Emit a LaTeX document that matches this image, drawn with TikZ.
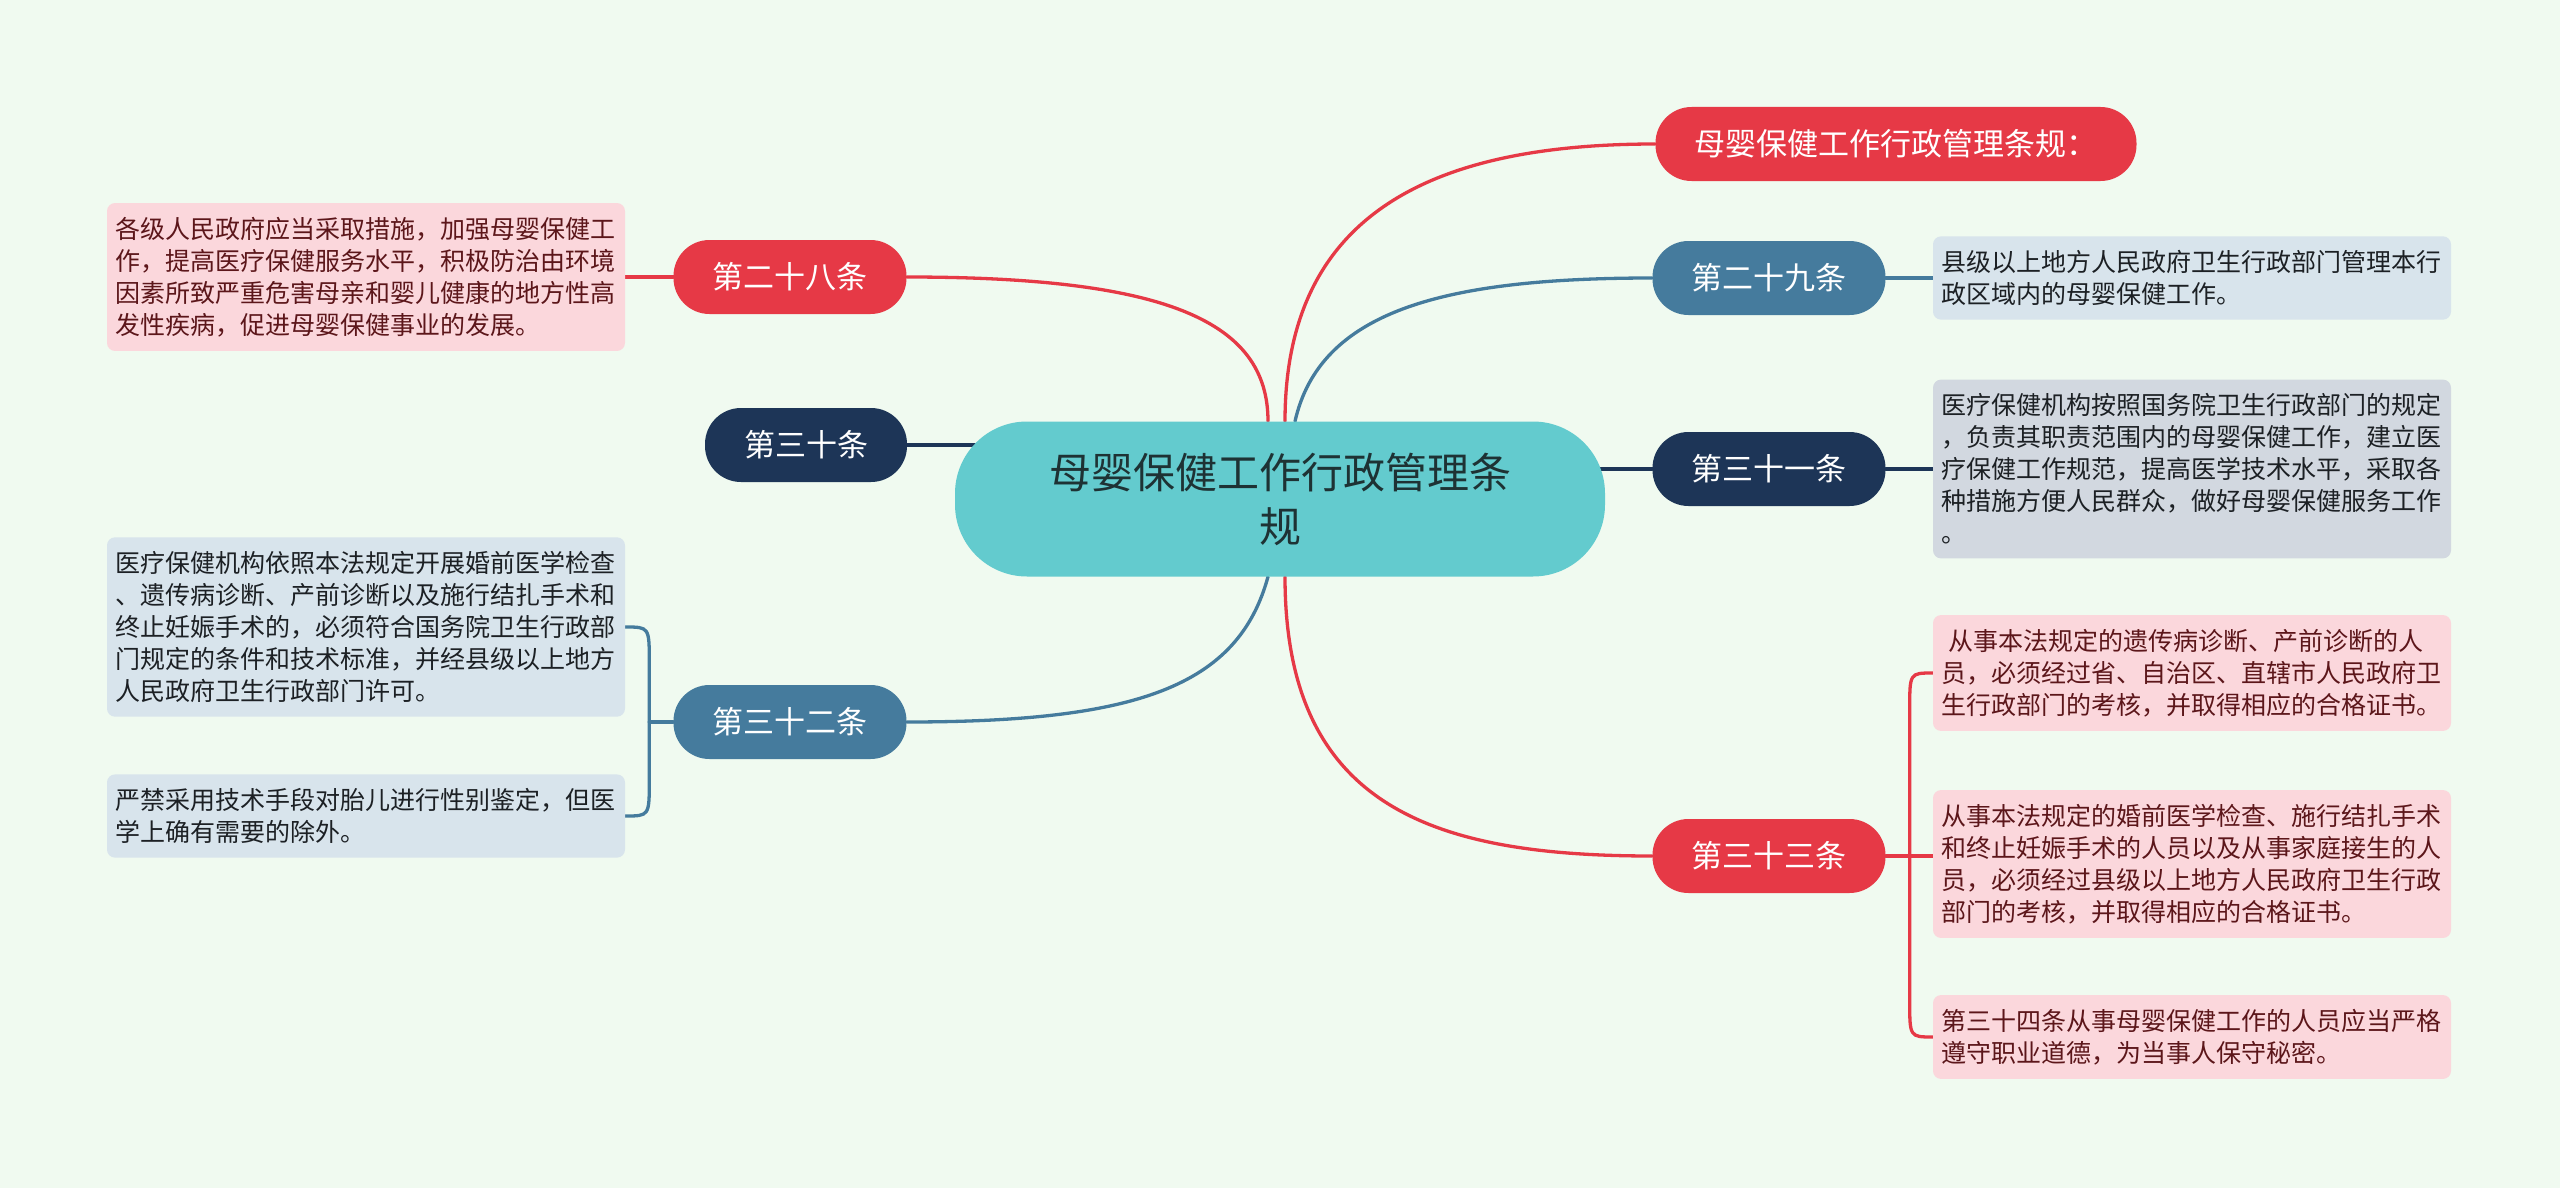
\documentclass[tikz,border=0pt]{standalone}
\usepackage{fontspec}
\setmainfont{Noto Sans CJK SC}
\usetikzlibrary{calc,backgrounds}
\definecolor{bgMint}{RGB}{240,250,240}
\definecolor{redMM}{RGB}{230,57,70}
\definecolor{steelMM}{RGB}{69,123,157}
\definecolor{navyMM}{RGB}{29,53,87}
\definecolor{tealMM}{RGB}{99,203,206}
\definecolor{pinkLeaf}{RGB}{251,215,220}
\definecolor{blueLeaf}{RGB}{216,228,236}
\definecolor{greyLeaf}{RGB}{210,216,224}
\definecolor{maroonTxt}{RGB}{92,22,26}
\definecolor{inkTxt}{RGB}{28,32,36}
\definecolor{centreTxt}{RGB}{30,50,52}

\begin{document}
\begin{tikzpicture}[
    x=1pt,y=-1pt,
    root/.style={fill=tealMM,rounded corners=72pt,minimum width=650pt,
      minimum height=155pt,text width=480pt,align=center,text=centreTxt,
      font=\fontsize{42}{54}\selectfont},
    topic/.style={rounded corners=36pt,minimum height=74pt,inner xsep=39pt,
      text=white,font=\fontsize{31}{37}\selectfont},
    leaf/.style={rounded corners=8pt,text width=502pt,inner xsep=8pt,
      inner ysep=14pt,align=left,font=\fontsize{25}{32}\selectfont},
    pinkleaf/.style={leaf,fill=pinkLeaf,text=maroonTxt},
    blueleaf/.style={leaf,fill=blueLeaf,text=inkTxt},
    link/.style={line width=3.3pt,line cap=round}
  ]
  \useasboundingbox (0,0) rectangle (2560,1188);

  % centre and main branches
  \node[root] (c) at (1280,499) {母婴保健工作行政管理条\\规};
  \node[topic,fill=redMM] (t0) at (1896,144) {母婴保健工作行政管理条规：};
  \node[topic,fill=steelMM] (t29) at (1769,278) {第二十九条};
  \node[topic,fill=navyMM] (t31) at (1769,469) {第三十一条};
  \node[topic,fill=redMM] (t33) at (1769,856) {第三十三条};
  \node[topic,fill=redMM] (t28) at (790,277) {第二十八条};
  \node[topic,fill=navyMM] (t30) at (806,445) {第三十条};
  \node[topic,fill=steelMM] (t32) at (790,722) {第三十二条};

  % left leaves
  \node[pinkleaf] (l28) at (366,277)
    {各级人民政府应当采取措施，加强母婴保健工\\作，提高医疗保健服务水平，积极防治由环境\\因素所致严重危害母亲和婴儿健康的地方性高\\发性疾病，促进母婴保健事业的发展。};
  \node[blueleaf] (l32a) at (366,627)
    {医疗保健机构依照本法规定开展婚前医学检查\\、遗传病诊断、产前诊断以及施行结扎手术和\\终止妊娠手术的，必须符合国务院卫生行政部\\门规定的条件和技术标准，并经县级以上地方\\人民政府卫生行政部门许可。};
  \node[blueleaf] (l32b) at (366,816)
    {严禁采用技术手段对胎儿进行性别鉴定，但医\\学上确有需要的除外。};

  % right leaves
  \node[blueleaf] (r29) at (2192,278)
    {县级以上地方人民政府卫生行政部门管理本行\\政区域内的母婴保健工作。};
  \node[leaf,fill=greyLeaf,text=inkTxt] (r31) at (2192,469)
    {医疗保健机构按照国务院卫生行政部门的规定\\，负责其职责范围内的母婴保健工作，建立医\\疗保健工作规范，提高医学技术水平，采取各\\种措施方便人民群众，做好母婴保健服务工作\\。};
  \node[pinkleaf] (r33a) at (2192,673)
    {\hspace*{0.3em}从事本法规定的遗传病诊断、产前诊断的人\\员，必须经过省、自治区、直辖市人民政府卫\\生行政部门的考核，并取得相应的合格证书。};
  \node[pinkleaf] (r33b) at (2192,864)
    {从事本法规定的婚前医学检查、施行结扎手术\\和终止妊娠手术的人员以及从事家庭接生的人\\员，必须经过县级以上地方人民政府卫生行政\\部门的考核，并取得相应的合格证书。};
  \node[pinkleaf] (r33c) at (2192,1037)
    {第三十四条从事母婴保健工作的人员应当严格\\遵守职业道德，为当事人保守秘密。};

  \begin{scope}[on background layer]
    \fill[bgMint] (0,0) rectangle (2560,1188);
    % centre to branches
    \draw[link,redMM] ($(c.north)+(-12,0)$)
      .. controls +(0,-100) and +(260,0) .. (t28.east);
    \draw[link,redMM] ($(c.north)+(5,0)$)
      .. controls +(0,-210) and +(-220,0) .. (t0.west);
    \draw[link,steelMM] ($(c.north)+(15,0)$)
      .. controls +(25,-110) and +(-210,0) .. (t29.west);
    \draw[link,navyMM] (t30.east) -- (t30.east -| c.center);
    \draw[link,navyMM] (t31.west) -- (t31.west -| c.center);
    \draw[link,steelMM] ($(c.south)+(-12,0)$)
      .. controls +(-30,110) and +(230,0) .. (t32.east);
    \draw[link,redMM] ($(c.south)+(5,0)$)
      .. controls +(0,230) and +(-220,0) .. (t33.west);
    % branches to leaves
    \draw[link,redMM] (t28.west) -- (l28.east);
    \draw[link,steelMM] (t29.east) -- (r29.west);
    \draw[link,navyMM] (t31.east) -- (r31.west);
    \coordinate (b32) at ($(t32.west)+(-24,0)$);
    \draw[link,steelMM] (t32.west) -- (b32);
    \draw[link,steelMM] (l32a.east) .. controls (b32 |- l32a.east)
      .. ($(b32 |- l32a.east)+(0,36)$) -- ($(b32 |- l32b.east)+(0,-36)$)
      .. controls (b32 |- l32b.east) .. (l32b.east);
    \coordinate (b33) at ($(t33.east)+(24,0)$);
    \draw[link,redMM] (t33.east) -- (r33b.west |- t33.east);
    \draw[link,redMM] (r33a.west) .. controls (b33 |- r33a.west)
      .. ($(b33 |- r33a.west)+(0,36)$) -- ($(b33 |- r33c.west)+(0,-36)$)
      .. controls (b33 |- r33c.west) .. (r33c.west);
  \end{scope}
\end{tikzpicture}
\end{document}
